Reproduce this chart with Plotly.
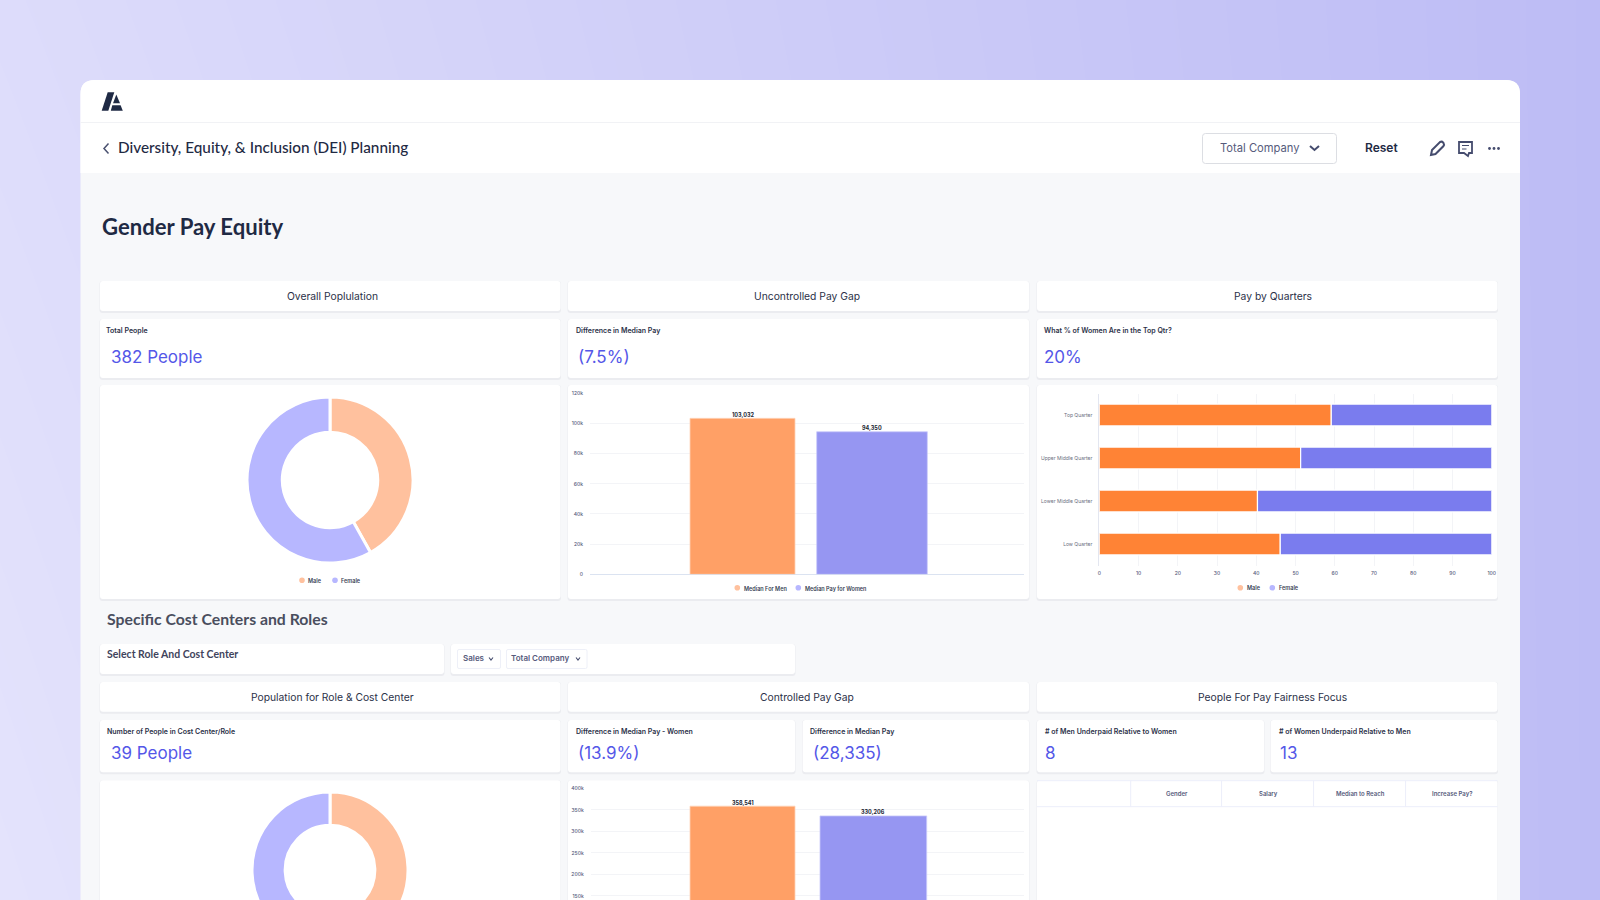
import plotly.graph_objects as go

W, H = 1600, 1000

# ---------- data ----------
donut_labels = ["Male", "Female"]
overall_people = [160, 222]
role_people = [19, 20]

median_series = ["Median For Men", "Median Pay for Women"]
median_pay = [103400, 94500]
median_pay_text = ["103,032", "94,350"]
median_ticks = [0, 20000, 40000, 60000, 80000, 100000, 120000]
median_ticktext = ["0", "20k", "40k", "60k", "80k", "100k", "120k"]

quarters = ["Top Quarter", "Upper Middle Quarter", "Lower Middle Quarter", "Low Quarter"]
male_share = [59.1, 51.3, 40.3, 46.1]
female_share = [40.9, 48.7, 59.7, 53.9]
share_ticks = [0, 10, 20, 30, 40, 50, 60, 70, 80, 90, 100]

controlled_pay = [358541, 335800]
controlled_text = ["358,541", "330,206"]
controlled_ticks = [150000, 200000, 250000, 300000, 350000, 400000]
controlled_ticktext = ["150k", "200k", "250k", "300k", "350k", "400k"]

table_headers = ["Gender", "Salary", "Median to Reach", "Increase Pay?"]

# ---------- palette ----------
NAVY = "#1f2a44"
INK = "#2b3148"
BLUE = "#5457e8"
MUTED = "#565b7c"
GRID = "#f3f4f7"
O_LIGHT, O_MID, O_DARK = "#ffc19e", "#ffa066", "#ff8335"
P_LIGHT, P_MID, P_DARK = "#b7b7ff", "#9696f2", "#7a7cee"
FONT = "Inter"
HEAD = "Lato"


def dx(a, b):
    return [a / W, b / W]


def dy(top, bottom):
    return [1 - bottom / H, 1 - top / H]


shapes, notes = [], []


def rrect(x0, y0, x1, y1, r, fill, line=None, lw=1):
    path = (f"M{x0+r},{y0} L{x1-r},{y0} Q{x1},{y0} {x1},{y0+r} L{x1},{y1-r} Q{x1},{y1} {x1-r},{y1} "
            f"L{x0+r},{y1} Q{x0},{y1} {x0},{y1-r} L{x0},{y0+r} Q{x0},{y0} {x0+r},{y0} Z")
    shapes.append(dict(type="path", xref="x2", yref="y2", layer="below", path=path, fillcolor=fill,
                       line=dict(color=line or "rgba(0,0,0,0)", width=lw if line else 0)))


def card(x0, y0, x1, y1):
    rrect(x0 - 0.5, y0, x1 + 0.5, y1 + 2, 3, "#ebecf0")
    rrect(x0, y0, x1, y1, 3, "#ffffff")


def stroke(path, color=MUTED, width=1.5, fill=None):
    shapes.append(dict(type="path", xref="x2", yref="y2", layer="below", path=path,
                       fillcolor=fill or "rgba(0,0,0,0)", line=dict(color=color, width=width)))


def solid(path, color=NAVY):
    shapes.append(dict(type="path", xref="x2", yref="y2", layer="below", path=path,
                       fillcolor=color, line=dict(width=0)))


def dot(cx, cy, r, color):
    shapes.append(dict(type="circle", xref="x2", yref="y2", layer="below", x0=cx - r, x1=cx + r,
                       y0=cy - r, y1=cy + r, fillcolor=color, line=dict(width=0)))


def text(x, y, s, size, color=INK, anchor="left", weight=400, family=FONT):
    notes.append(dict(xref="paper", yref="paper", x=x / W, y=1 - y / H, text=s, showarrow=False,
                      xanchor=anchor, yanchor="middle", align=anchor, borderpad=0, borderwidth=0,
                      font=dict(family=family, size=size, color=color, weight=weight)))


# ---------- page chrome ----------
shapes.append(dict(type="path", xref="x2", yref="y2", layer="below",
                   path="M80.5,1000 L80.5,94 Q80.5,80 94.5,80 L1506,80 Q1520,80 1520,94 L1520,1000 Z",
                   fillcolor="#f7f8fa", line=dict(width=0)))
shapes.append(dict(type="path", xref="x2", yref="y2", layer="below",
                   path="M80.5,173 L80.5,94 Q80.5,80 94.5,80 L1506,80 Q1520,80 1520,94 L1520,173 Z",
                   fillcolor="#ffffff", line=dict(width=0)))
stroke("M80.5,122.5 L1520,122.5", "#f1f2f5", 1)

# logo
solid("M101.7,110.7 L107.7,92.3 L114.3,92.3 L108.3,110.7 Z")
solid("M116.3,94.5 L120,103.3 L113,103.3 Z")
solid("M112.3,105.3 L120.6,105.3 L122.8,110.7 L110.8,110.7 Z")

# back chevron and title
stroke("M108.5,143.5 L104,148.5 L108.5,153.5", "#4a5170", 1.5)
text(117.5, 147.5, "Diversity, Equity, &amp; Inclusion (DEI) Planning", 15.3, NAVY, weight=500, family=HEAD)

# top-right controls
rrect(1202.5, 133.5, 1336.5, 163.5, 3, "#ffffff", "#dcdee3", 1)
text(1220, 148, "Total Company", 11.2, MUTED)
stroke("M1310,146 L1314.5,150 L1319,146", "#454c6e", 2)
text(1381, 147.5, "Reset", 12, NAVY, "center", 600)
stroke("M1431,155 L1432,150 L1440,142 Q1442,141 1443,142.5 L1443.5,143 Q1444.5,144.5 1443.5,146 L1435.5,154 Z",
       "#454c6e", 2)
stroke("M1459,142 L1472,142 L1472,153 L1469,153 L1468,156 L1464,153 L1459,153 Z", "#454c6e", 1.8)
stroke("M1462,145.5 L1469,145.5 M1462,149 L1466.5,149", "#454c6e", 1.2)
for cx in (1489.5, 1494, 1498.5):
    dot(cx, 148.5, 1.4, "#454c6e")

text(102, 227, "Gender Pay Equity", 22.1, NAVY, weight=700, family=HEAD)

# ---------- first block ----------
COLS = [(100, 560.5), (568, 1029), (1037, 1497.5)]
HEAD_X = [332, 807, 1272.5]
for (a, b), cx, s in zip(COLS, HEAD_X, ["Overall Poplulation", "Uncontrolled Pay Gap", "Pay by Quarters"]):
    card(a, 281, b, 311)
    text(cx, 296.2, s, 10.3, INK, "center")
    card(a, 319, b, 378)
    card(a, 385, b, 599)

VAL = 17
text(106, 330, "Total People", 7, INK, weight=600)
text(111, 356.7, "382 People", VAL, BLUE)
text(575.5, 330, "Difference in Median Pay", 7, INK, weight=600)
text(577.5, 356.7, "(7.5%)", VAL, BLUE)
text(1044, 330, "What % of Women Are in the Top Qtr?", 7, INK, weight=600)
text(1044, 356.7, "20%", VAL, BLUE)

# legends of the first block
for cx, tx, s, c, y in [
    (302, 308, donut_labels[0], O_LIGHT, 580.3),
    (335, 341, donut_labels[1], P_LIGHT, 580.3),
    (737.3, 744, median_series[0], O_LIGHT, 587.7),
    (798.3, 805, median_series[1], P_LIGHT, 587.7),
    (1240.3, 1247, donut_labels[0], O_LIGHT, 587.7),
    (1272.3, 1278.7, donut_labels[1], P_LIGHT, 587.7),
]:
    dot(cx, y, 2.8, c)
    text(tx, y + 0.3, s, 5.5, "#3a3f55", weight=600)

# ---------- second block ----------
text(107, 618.3, "Specific Cost Centers and Roles", 15.8, "#4a4e5e", weight=700, family=HEAD)
card(100, 644, 444, 674)
text(107, 654, "Select Role And Cost Center", 10.5, "#3f445c", weight=700, family=HEAD)
card(451, 644, 795, 674)
rrect(457.5, 649.5, 500.5, 668.5, 1.5, "#ffffff", "#eef0f8", 1)
rrect(506.5, 649.5, 587, 668.5, 1.5, "#ffffff", "#eef0f8", 1)
text(462.5, 658, "Sales", 8, MUTED, weight=600)
text(511, 658, "Total Company", 8, MUTED, weight=600)
stroke("M489,657.5 L491,660 L493,657.5", "#454c6e", 1.1)
stroke("M576,657.5 L578,660 L580,657.5", "#454c6e", 1.1)

for (a, b), cx, s in zip(COLS, HEAD_X, ["Population for Role &amp; Cost Center", "Controlled Pay Gap",
                                        "People For Pay Fairness Focus"]):
    card(a, 682, b, 711.7)
    text(cx, 696.7, s, 10.3, INK, "center")
    card(a, 780.3, b, 1000)

card(100, 720, 560.5, 772.3)
card(568, 720, 795, 772.3)
card(802.7, 720, 1029, 772.3)
card(1037, 720, 1264, 772.3)
card(1270.7, 720, 1497.5, 772.3)
text(107, 731, "Number of People in Cost Center/Role", 7, INK, weight=600)
text(111, 752.5, "39 People", VAL, BLUE)
text(575.5, 731, "Difference in Median Pay - Women", 7, INK, weight=600)
text(577.5, 752.5, "(13.9%)", VAL, BLUE)
text(810, 731, "Difference in Median Pay", 7, INK, weight=600)
text(812.5, 752.5, "(28,335)", VAL, BLUE)
text(1044.5, 731, "# of Men Underpaid Relative to Women", 7, INK, weight=600)
text(1044.5, 752.5, "8", VAL, BLUE)
text(1279, 731, "# of Women Underpaid Relative to Men", 7, INK, weight=600)
text(1279.5, 752.5, "13", VAL, BLUE)

# people table header
TABLE_LINE = "#eceefa"
stroke("M1037,780.7 L1497.5,780.7 M1037,806.7 L1497.5,806.7", TABLE_LINE, 1)
for lx in (1130.7, 1221.6, 1313.6, 1405.6):
    stroke(f"M{lx},780.7 L{lx},806.7", TABLE_LINE, 1)
for cx, s in zip((1176.5, 1268, 1360, 1452), table_headers):
    text(cx, 793.7, s, 6, MUTED, "center", 600)

# ---------- figure ----------
fig = go.Figure()

# page gradient
fig.add_trace(go.Heatmap(x=[0, W], y=[0, H], z=[[0, 1], [0.2, 1]], zsmooth="best", showscale=False,
                         hoverinfo="skip", zmin=0, zmax=1,
                         colorscale=[[0, "#e5e4fc"], [1, "#bdbcf5"]], xaxis="x", yaxis="y"))
# pixel layer that holds the cards
fig.add_trace(go.Scatter(x=[None], y=[None], xaxis="x2", yaxis="y2", showlegend=False, hoverinfo="skip"))


def bar_pair(values, labels, xa, ya, spans, x0, x1):
    span = x1 - x0
    mid = (x0 + x1) / 2
    for v, t, c, ln, (a, b) in zip(values, labels, [O_MID, P_MID], ["#ffd3b8", "#c9c9fa"], spans):
        fig.add_trace(go.Bar(x=[""], y=[v], offset=(a - mid) / span, width=(b - a) / span, showlegend=False,
                             marker=dict(color=c, line=dict(color=ln, width=0.8)), xaxis=xa, yaxis=ya))
        notes.append(dict(xref="paper", yref=ya, x=(a + b) / 2 / W, y=v, text=t, showarrow=False,
                          xanchor="center", yanchor="bottom", yshift=0.5, borderpad=0, borderwidth=0,
                          font=dict(family=FONT, size=5.5, color="#222633", weight=700)))


bar_pair(median_pay, median_pay_text, "x3", "y3", [(690, 795), (816.7, 927.3)], 590, 1024)
bar_pair(controlled_pay, controlled_text, "x5", "y5", [(690, 795), (820, 926.7)], 590.7, 1024)

fig.add_trace(go.Bar(y=quarters, x=male_share, orientation="h", showlegend=False, xaxis="x4", yaxis="y4",
                     marker=dict(color=O_DARK, line=dict(color="#ffffff", width=1.2))))
fig.add_trace(go.Bar(y=quarters, x=female_share, base=male_share, orientation="h", showlegend=False,
                     xaxis="x4", yaxis="y4", marker=dict(color=P_DARK, line=dict(color="#ffffff", width=1.2))))

for vals, cx, cy, r in [(overall_people, 330, 480, 83), (role_people, 330, 870, 78)]:
    fig.add_trace(go.Pie(labels=donut_labels, values=vals, hole=0.575, sort=False, direction="clockwise",
                         rotation=0, textinfo="none", showlegend=False, automargin=False,
                         marker=dict(colors=[O_LIGHT, P_LIGHT], line=dict(color="#ffffff", width=3)),
                         domain=dict(x=dx(cx - r, cx + r), y=dy(cy - r, cy + r))))

tick = dict(family=FONT, size=5, color=MUTED, weight=500)
hidden = dict(visible=False, showgrid=False, zeroline=False, fixedrange=True, automargin=False)


def val_axis(rng, vals, txt, top, bottom):
    return dict(domain=dy(top, bottom), range=rng, tickmode="array", tickvals=vals, ticktext=txt,
                tickfont=tick, showgrid=True, gridcolor=GRID, gridwidth=1, zeroline=True,
                zerolinecolor="#dbe3f1", zerolinewidth=1, ticks="outside", ticklen=5,
                tickcolor="rgba(0,0,0,0)", automargin=False, showline=False)


fig.update_layout(
    width=W, height=H, autosize=False, margin=dict(l=0, r=0, t=0, b=0, pad=0),
    paper_bgcolor="#e5e4fc", plot_bgcolor="rgba(0,0,0,0)", barmode="overlay", bargap=0.49,
    showlegend=False, shapes=shapes, annotations=notes, font=dict(family=FONT),
    xaxis=dict(domain=[0, 1], range=[0, W], **hidden),
    yaxis=dict(domain=[0, 1], range=[0, H], **hidden),
    xaxis2=dict(domain=[0, 1], range=[0, W], anchor="y2", **hidden),
    yaxis2=dict(domain=[0, 1], range=[H, 0], anchor="x2", **hidden),
    xaxis3=dict(domain=dx(590, 1024), anchor="y3", type="category", showticklabels=False, showgrid=False,
                zeroline=False, showline=False, ticks="", automargin=False),
    yaxis3=dict(anchor="x3", **val_axis([0, 120000], median_ticks, median_ticktext, 393.3, 574.3)),
    xaxis5=dict(domain=dx(590.7, 1024), anchor="y5", type="category", showticklabels=False, showgrid=False,
                zeroline=False, showline=False, ticks="", automargin=False),
    yaxis5=dict(anchor="x5", **val_axis([0, 400000], controlled_ticks, controlled_ticktext, 788.3, 960.5)),
    xaxis4=dict(domain=dx(1099.3, 1491.8), anchor="y4", range=[0, 100], tickmode="array", tickvals=share_ticks,
                tickfont=tick, showgrid=True, gridcolor=GRID, zeroline=False, ticks="outside", ticklen=2,
                tickcolor="rgba(0,0,0,0)", automargin=False),
    yaxis4=dict(domain=dy(393.5, 565.5), anchor="x4", type="category", categoryorder="array",
                categoryarray=quarters[::-1], tickfont=dict(family=FONT, size=5, color="#6b6f80"),
                showgrid=False, zeroline=False, showline=True, linecolor="#e3e6f0", linewidth=1,
                ticks="outside", ticklen=5, tickcolor="rgba(0,0,0,0)", automargin=False),
)

clip = ("document.documentElement.style.cssText='margin:0;height:100vh;overflow:hidden';"
        "document.body.style.cssText='margin:0;height:100vh;overflow:hidden';")
fig.write_html("out.html", post_script=clip, config=dict(displayModeBar=False, responsive=False))
